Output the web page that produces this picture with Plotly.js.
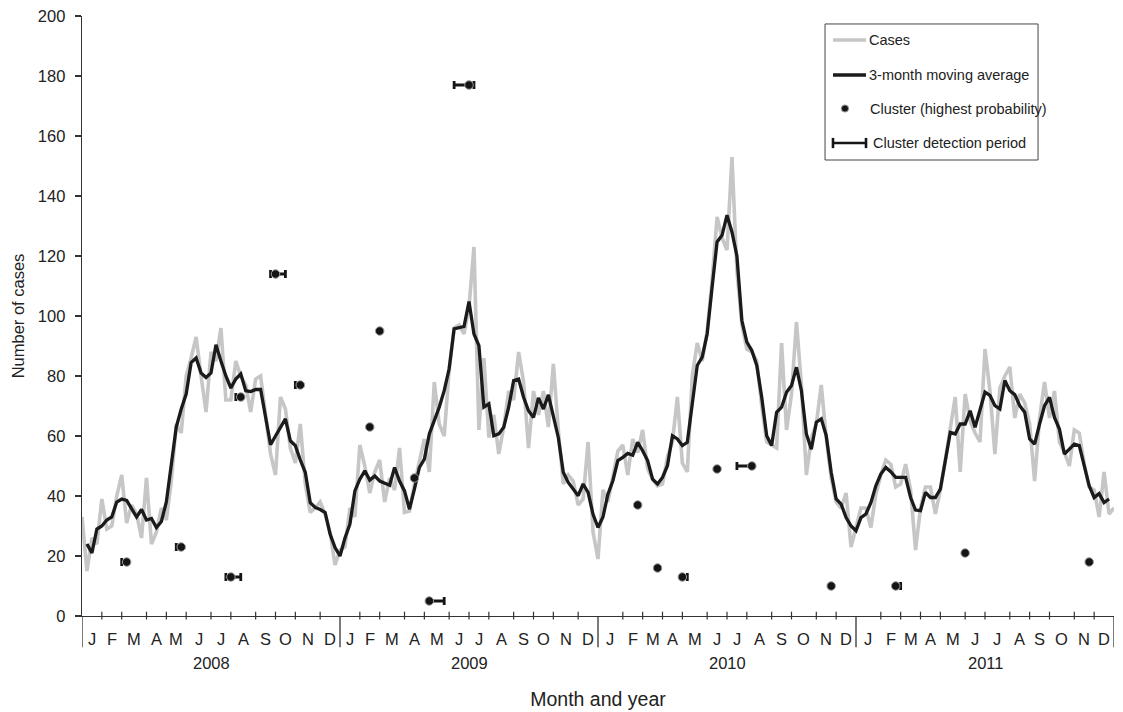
<!DOCTYPE html>
<html><head><meta charset="utf-8">
<script src="https://cdn.plot.ly/plotly-3.0.1.min.js"></script>
<style>html,body{margin:0;padding:0;background:#fff}#chart{width:1123px;height:712px}</style>
</head><body><div id="chart"></div>
<script>
// Weekly cases, weeks 0..208 (Jan 2008 - Dec 2011)
const cases = [33,15,26,24,39,29,30,40,47,31,
 37,34,26,46,24,28,36,32,45,64,
 61,80,86,93,80,68,88,85,96,72,
 72,85,80,77,68,79,80,67,54,47,
 73,69,56,51,64,44,34.5,36,38,34,
 28,17,22,23,36,33,57,50,41,48,
 52,38,46,42,56,34.5,35,44,52,59,
 48,78,64,60,82,96,97,94,103,123,
 62,86,59.5,67,54,63,75,72,88,78,
 56,75,67,75,63,84,62,44,47,45,
 37,39,58,28,19,42,38,46,55,57,
 47,59,54.5,62,49,45.6,43.4,44,53,58,
 73,51,48,80,91,85,95,112,133,126,
 122,153,115,97,89,88,85,70,58,57,
 56,91,62,74,98,77,47,59.5,64,77,
 59.5,46,38,36,41,23,29.5,36,36,29.5,
 40.6,47,52,50.6,43,44,50.6,42,22,36,
 43,43,34,42,52,62,73,48,74,65,
 61,58,89,75,54,76,80,83,66,74,
 71,64,45,66,78,66,75,58,54.5,50,
 62,61,50.6,43,42,33,48,34,36];
// 3-month moving average, weeks 1..207
const movingAverage = [24,21,29,30,32,33,38,39,38.5,35.5,
 33,35.5,32,32.5,29.5,31.5,38,50.5,63,69,
 74,84.5,86,81,79.5,81,90.4,85,80,76,
 79,80.7,75.1,74.8,75.5,75.5,67,57.1,60,63,
 65.7,58.4,56.8,52,47.9,37.8,36.2,35.5,34.5,27.3,
 22.8,20,26,30.6,41.7,45.6,48.4,45.3,46.7,45,
 44.3,43.6,49.5,45,41.7,35.6,42.3,49.5,52.3,60.7,
 65.1,69.6,75.1,82.4,95.7,96,96.5,104.8,94,90.1,
 69.6,70.7,60.1,60.7,62.9,69.6,78.5,79,72.9,68.4,
 66.2,72.7,69,73.7,66.2,59.5,47.9,44.5,42.3,40.1,
 44,41.2,33.9,29.5,33,40.6,45.1,51.8,52.9,54.2,
 53.6,57.9,55.1,51.8,45.6,44,46.2,50.1,60.1,59,
 56.8,57.9,70.7,83.5,86.3,94,109.6,124.7,126.9,133.6,
 128,120,98.5,91.3,88.5,83.5,72.9,60.1,56.8,67.9,
 69.6,74.6,76.8,82.9,75.1,60.7,55.6,64.6,65.7,60.1,
 47.9,39,37.3,32.8,30,28.4,32.8,34,37.8,43.4,
 47.3,49.5,48.1,46.2,46.2,46.2,39.5,35.3,35.1,41.2,
 39.5,39.5,42.3,51.8,61.2,60.7,64,64,68.4,62.9,
 69,74.6,73.5,70.1,69,78.5,75.1,73.8,70.1,67.9,
 59,57.3,64,70.1,72.9,66.2,62.3,54,55.6,57.3,
 56.8,49.5,43.4,39.5,40.8,37.8,39];
// Clusters (week index, cases) and detection periods (week index)
const clusterWeek  = [9,20,30,32,39,44,58,60,67,70,78,112,116,121,128,135,151,164,178,203];
const clusterCases = [18,23,13,73,114,77,63,95,46,5,177,37,16,13,49,50,10,10,21,18];
const periodStart  = [8,19,29,31,38,43,null,null,null,70,75,null,null,121,null,132,null,164,null,null];
const periodEnd    = [9,20,32,32,41,44,null,null,null,73,79,null,null,122,null,135,null,165,null,null];
// Axis labels
const monthLetters = ['J','F','M','A','M','J','J','A','S','O','N','D'];
const years = ['2008','2009','2010','2011'];
const weeks2008 = [4,4,5,4,4,5,4,5,4,4,5,4];
const weeks2009 = [4,4,5,4,5,4,4,5,4,4,5,4];
const weeks2010 = [5,4,4,4,5,4,4,5,4,5,4,4];
const weeks2011 = [5,4,4,4,5,4,5,4,4,5,4,4];
const legendLabels = ['Cases','3-month moving average','Cluster (highest probability)','Cluster detection period'];

const FONT = 'Liberation Sans, Arial, Helvetica, sans-serif';
const GRAY = '#c6c6c6', BLACK = '#1b1b1b', AXIS = '#333';

const caseX = cases.map((_, i) => i);
const maX = movingAverage.map((_, i) => i + 1);
const errMinus = clusterWeek.map((w, i) => periodStart[i] === null ? NaN : w - periodStart[i]);
const errPlus = clusterWeek.map((w, i) => periodEnd[i] === null ? NaN : periodEnd[i] - w);

const traces = [
  {x: caseX, y: cases, type: 'scatter', mode: 'lines', name: legendLabels[0],
   line: {color: GRAY, width: 3.6}, showlegend: false},
  {x: maX, y: movingAverage, type: 'scatter', mode: 'lines', name: legendLabels[1],
   line: {color: BLACK, width: 3.3}, showlegend: false},
  {x: clusterWeek, y: clusterCases, type: 'scatter', mode: 'markers', name: legendLabels[2],
   marker: {color: '#151515', size: 8.5, line: {color: '#9a9a9a', width: 1}},
   error_x: {type: 'data', symmetric: false, array: errPlus, arrayminus: errMinus,
             color: '#151515', thickness: 2.8, width: 4},
   showlegend: false, cliponaxis: false}
];

const shapes = [], annotations = [];
const allWeeks = [weeks2008, weeks2009, weeks2010, weeks2011];
const yearBounds = [];
let pos = 0;
allWeeks.forEach((arr, yi) => {
  yearBounds.push(pos);
  const start = pos;
  arr.forEach((n, mi) => {
    annotations.push({x: pos + n / 2, y: -0.038, xref: 'x', yref: 'paper', text: monthLetters[mi],
      showarrow: false, xanchor: 'center', yanchor: 'middle', font: {family: FONT, size: 16.5, color: '#222'}});
    pos += n;
    if (mi < arr.length - 1) {
      shapes.push({type: 'line', xref: 'x', yref: 'paper', x0: pos, x1: pos, y0: -0.0058, y1: 0.0072,
        line: {color: AXIS, width: 1.2}});
    }
  });
  annotations.push({x: (start + pos) / 2, y: -0.078, xref: 'x', yref: 'paper', text: years[yi],
    showarrow: false, xanchor: 'center', yanchor: 'middle', font: {family: FONT, size: 16.5, color: '#222'}});
});
yearBounds.push(pos);
yearBounds.forEach(x => shapes.push({type: 'line', xref: 'x', yref: 'paper', x0: x, x1: x, y0: -0.052, y1: 0,
  line: {color: AXIS, width: 1.3}}));

// Legend (paper coordinates)
const L = {x0: 0.7200, x1: 0.9264, y0: 0.760, y1: 0.9867};
shapes.push({type: 'rect', xref: 'paper', yref: 'paper', x0: L.x0, x1: L.x1, y0: L.y0, y1: L.y1,
  line: {color: '#444', width: 1}, fillcolor: '#fff', layer: 'above'});
const sx0 = 0.7277, sx1 = 0.7597;
const itemY = [0.960, 0.9017, 0.8458, 0.7883];
shapes.push({type: 'line', xref: 'paper', yref: 'paper', x0: sx0, x1: sx1, y0: itemY[0], y1: itemY[0], line: {color: GRAY, width: 3.6}});
shapes.push({type: 'line', xref: 'paper', yref: 'paper', x0: sx0, x1: sx1, y0: itemY[1], y1: itemY[1], line: {color: BLACK, width: 3.3}});
shapes.push({type: 'circle', xref: 'paper', yref: 'paper', xsizemode: 'pixel', ysizemode: 'pixel',
  xanchor: 0.7393, yanchor: itemY[2], x0: -3.6, x1: 3.6, y0: -3.6, y1: 3.6,
  fillcolor: '#151515', line: {color: '#9a9a9a', width: 1}});
shapes.push({type: 'line', xref: 'paper', yref: 'paper', x0: sx0, x1: sx1, y0: itemY[3], y1: itemY[3], line: {color: '#151515', width: 2.6}});
[sx0, sx1].forEach(x => shapes.push({type: 'line', xref: 'paper', yref: 'paper', x0: x, x1: x,
  y0: itemY[3] - 0.0085, y1: itemY[3] + 0.0085, line: {color: '#151515', width: 2.6}}));
const textX = [0.7607, 0.7607, 0.7617, 0.7645];
legendLabels.forEach((t, i) => annotations.push({x: textX[i], y: itemY[i], xref: 'paper', yref: 'paper', text: t,
  showarrow: false, xanchor: 'left', yanchor: 'middle', font: {family: FONT, size: 14.5, color: '#222'}}));

const layout = {
  width: 1123, height: 712,
  margin: {l: 82, r: 9, t: 16, b: 96},
  paper_bgcolor: '#fff', plot_bgcolor: '#fff',
  font: {family: FONT, size: 16, color: '#222'},
  showlegend: false,
  xaxis: {range: [0, 208], showline: true, linecolor: AXIS, linewidth: 1.3, ticks: '', showticklabels: false,
    showgrid: false, zeroline: false, fixedrange: true,
    title: {text: 'Month and year', font: {family: FONT, size: 19.5, color: '#222'}, standoff: 76}},
  yaxis: {range: [0, 200], dtick: 20, tick0: 0, showline: true, linecolor: AXIS, linewidth: 1.3,
    ticks: 'outside', ticklen: 6, tickcolor: AXIS, tickwidth: 1.2, ticklabelstandoff: 6,
    showgrid: false, zeroline: false, fixedrange: true,
    tickfont: {family: FONT, size: 16.5, color: '#222'},
    title: {text: 'Number of cases', font: {family: FONT, size: 16.5, color: '#222'}, standoff: 9}},
  shapes: shapes,
  annotations: annotations
};

Plotly.newPlot('chart', traces, layout, {staticPlot: true, displayModeBar: false});
</script>
</body></html>
